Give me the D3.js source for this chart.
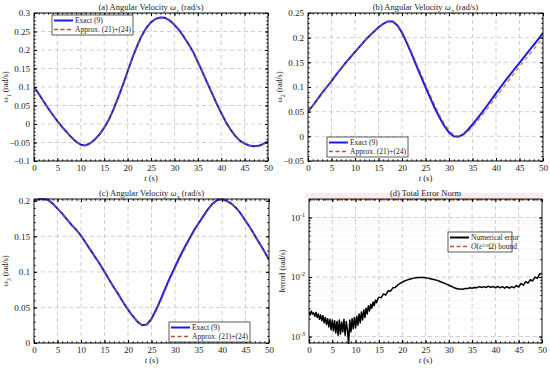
<!DOCTYPE html>
<html>
<head>
<meta charset="utf-8">
<script src="https://cdn.jsdelivr.net/npm/d3@7"></script>
<style>
body { margin: 0; background: #fff; }
text { font-family: "Liberation Serif", "DejaVu Serif", serif; fill: #222; }
</style>
</head>
<body>
<script>
// time grid for the angular velocity curves (1 s step)
const tSec = d3.range(0, 51);

// (a) omega_1 (rad/s)
const omega1Exact = [
0.100, 0.082, 0.062, 0.043, 0.025, 0.008, -0.008, -0.022, -0.036, -0.048,
-0.056, -0.058, -0.052, -0.042, -0.028, -0.010, 0.012, 0.040, 0.072, 0.106,
0.142, 0.178, 0.210, 0.238, 0.260, 0.275, 0.284, 0.288, 0.287, 0.280,
0.268, 0.254, 0.236, 0.216, 0.195, 0.168, 0.140, 0.112, 0.084, 0.056,
0.030, 0.005, -0.015, -0.032, -0.045, -0.053, -0.058, -0.060, -0.059, -0.054,
-0.047];
const omega1Approx = [
0.100, 0.082, 0.062, 0.043, 0.025, 0.008, -0.008, -0.022, -0.036, -0.048,
-0.056, -0.058, -0.052, -0.042, -0.028, -0.010, 0.012, 0.039, 0.071, 0.105,
0.141, 0.177, 0.209, 0.237, 0.259, 0.275, 0.284, 0.288, 0.287, 0.281,
0.269, 0.255, 0.237, 0.217, 0.196, 0.169, 0.141, 0.113, 0.085, 0.057,
0.031, 0.006, -0.014, -0.031, -0.044, -0.053, -0.058, -0.060, -0.059, -0.055,
-0.048];

// (b) omega_2 (rad/s)
const omega2Exact = [
0.050, 0.062, 0.075, 0.088, 0.100, 0.112, 0.125, 0.137, 0.149, 0.160,
0.171, 0.182, 0.193, 0.203, 0.212, 0.221, 0.228, 0.233, 0.233, 0.225,
0.210, 0.190, 0.168, 0.145, 0.122, 0.100, 0.078, 0.057, 0.038, 0.021,
0.008, 0.000, -0.001, 0.004, 0.013, 0.024, 0.036, 0.048, 0.061, 0.074,
0.087, 0.100, 0.113, 0.125, 0.137, 0.149, 0.161, 0.173, 0.185, 0.197,
0.209];
const omega2Approx = [
0.050, 0.062, 0.075, 0.088, 0.100, 0.112, 0.125, 0.137, 0.149, 0.160,
0.171, 0.182, 0.193, 0.203, 0.212, 0.221, 0.228, 0.233, 0.234, 0.227,
0.213, 0.193, 0.172, 0.150, 0.128, 0.106, 0.084, 0.063, 0.043, 0.026,
0.012, 0.003, 0.000, 0.002, 0.009, 0.019, 0.030, 0.042, 0.054, 0.067,
0.080, 0.092, 0.105, 0.117, 0.129, 0.141, 0.153, 0.165, 0.176, 0.188,
0.199];

// (c) omega_3 (rad/s)
const omega3Exact = [
0.200, 0.202, 0.2025, 0.201, 0.196, 0.189, 0.182, 0.174, 0.166, 0.159,
0.151, 0.141, 0.131, 0.121, 0.111, 0.100, 0.089, 0.078, 0.068, 0.057,
0.047, 0.038, 0.030, 0.025, 0.026, 0.034, 0.047, 0.062, 0.078, 0.093,
0.107, 0.121, 0.134, 0.146, 0.158, 0.168, 0.178, 0.188, 0.196, 0.201,
0.202, 0.200, 0.196, 0.190, 0.182, 0.172, 0.162, 0.151, 0.140, 0.129,
0.117];
const omega3Approx = [
0.200, 0.202, 0.2025, 0.201, 0.196, 0.189, 0.182, 0.174, 0.166, 0.159,
0.151, 0.141, 0.131, 0.121, 0.111, 0.100, 0.089, 0.078, 0.068, 0.057,
0.047, 0.038, 0.030, 0.025, 0.026, 0.033, 0.045, 0.059, 0.075, 0.090,
0.104, 0.118, 0.131, 0.144, 0.156, 0.167, 0.177, 0.187, 0.195, 0.200,
0.202, 0.200, 0.196, 0.190, 0.182, 0.172, 0.162, 0.151, 0.140, 0.129,
0.118];

// (d) total error norm, in 1e-3 rad/s
// 0 .. 14.75 s every 0.25 s
const errEarly = [
2.6, 2.3, 2.7, 2.4,
2.5, 2.2, 2.55, 2.1,
2.4, 1.95, 2.3, 1.85,
2.25, 1.7, 2.1, 1.6,
2.0, 1.45, 1.95, 1.3,
1.9, 1.25, 1.85, 1.15,
1.8, 1.05, 1.9, 1.1,
1.75, 1.2, 1.95, 1.05,
1.8, 1.3, 0.75, 1.9,
1.2, 2.0, 1.35, 2.1,
1.4, 2.2, 1.55, 2.4,
1.7, 2.6, 1.9, 2.8,
2.1, 3.0, 2.4, 3.3,
2.7, 3.5, 3.0, 3.8,
3.3, 4.1, 3.7, 4.3];
// 15 .. 50 s every 0.5 s
const errLate = [
4.6, 4.5, 5.2, 5.0, 5.9, 5.8, 6.6, 6.7, 7.3, 7.8,
8.2, 8.6, 8.9, 9.2, 9.4, 9.6, 9.7, 9.8, 9.8, 9.8,
9.7, 9.6, 9.4, 9.2, 9.0, 8.8, 8.5, 8.2, 7.9, 7.6,
7.3, 7.0, 6.7, 6.5, 6.3, 6.3, 6.25, 6.4, 6.4, 6.6,
6.5, 6.7, 6.6, 6.9, 6.7, 6.9, 6.7, 7.0, 6.7, 6.95,
6.6, 7.0, 6.6, 6.9, 6.5, 6.9, 6.5, 6.9, 6.6, 7.2,
6.8, 7.8, 7.3, 8.4, 7.9, 9.0, 8.6, 10.0, 9.5, 11.3,
11.5];
const tErr = d3.range(0, 15, 0.25).concat(d3.range(15, 50.01, 0.5));
const errorBound = 0.2; // O(eps^{3/2} Omega) bound, rad/s

const xTicks = d3.range(0, 51, 5);

const width = 550;
const height = 371;

const svg = d3.select("body")
.append("svg")
.attr("width", width)
.attr("height", height);

const blue = "#1a1ae6";
const brown = "#b0582a";

function zip(t, v, k) {
  return t.map(function(d, i){ return {t: d, v: v[i] * (k || 1)}; });
}

function drawPanel(p) {
  const g = svg.append("g").attr("transform", "translate(" + p.x + "," + p.y + ")");
  const xScale = d3.scaleLinear().domain([0, 50]).range([0, p.w]);
  const yScale = (p.log ? d3.scaleLog() : d3.scaleLinear())
    .domain(p.yDomain).range([p.h, 0]);

  // grid
  if (p.log) {
    g.append("g").selectAll("line")
    .data(p.yMinor)
    .join("line")
    .attr("x1", 0).attr("x2", p.w)
    .attr("y1", function(d){ return yScale(d); })
    .attr("y2", function(d){ return yScale(d); })
    .attr("stroke", "#e4e4e4")
    .attr("stroke-width", 0.6)
    .attr("stroke-dasharray", "1,1");
  }
  g.append("g").selectAll("line")
  .data(xTicks.slice(1, -1))
  .join("line")
  .attr("x1", function(d){ return xScale(d); })
  .attr("x2", function(d){ return xScale(d); })
  .attr("y1", 0).attr("y2", p.h)
  .attr("stroke", "#c4c4c4")
  .attr("stroke-width", 0.8)
  .attr("stroke-dasharray", "4,3");
  g.append("g").selectAll("line")
  .data(p.yTicks)
  .join("line")
  .attr("x1", 0).attr("x2", p.w)
  .attr("y1", function(d){ return yScale(d); })
  .attr("y2", function(d){ return yScale(d); })
  .attr("stroke", "#c4c4c4")
  .attr("stroke-width", 0.8)
  .attr("stroke-dasharray", "4,3");

  // curves
  const clipId = "clip-" + p.id;
  g.append("clipPath").attr("id", clipId)
  .append("rect").attr("x", 0).attr("y", -1).attr("width", p.w).attr("height", p.h + 2);
  const line = d3.line()
  .x(function(d){ return xScale(d.t); })
  .y(function(d){ return yScale(d.v); });
  const plot = g.append("g").attr("clip-path", "url(#" + clipId + ")");
  p.series.forEach(function(s) {
    plot.append("path")
    .datum(s.data)
    .attr("d", line)
    .attr("fill", "none")
    .attr("stroke", s.color)
    .attr("stroke-width", s.width)
    .attr("stroke-dasharray", s.dash || null)
    .attr("stroke-opacity", s.opacity || 1)
    .attr("stroke-linejoin", "round");
  });

  // frame
  g.append("rect")
  .attr("width", p.w).attr("height", p.h)
  .attr("fill", "none").attr("stroke", "#111").attr("stroke-width", 1);

  // axes with inward ticks on all sides
  const font = "Liberation Serif";
  const xa = g.append("g").attr("transform", "translate(0," + p.h + ")")
  .call(d3.axisBottom(xScale).tickValues(xTicks).tickSizeInner(-3).tickSizeOuter(0).tickPadding(4));
  xa.attr("font-family", font).attr("font-size", 9);
  g.append("g").attr("transform", "translate(0," + p.h + ")")
  .call(d3.axisBottom(xScale).tickValues(d3.range(0, 51, 1)).tickSizeInner(-1.6).tickSizeOuter(0).tickFormat(""));
  g.append("g")
  .call(d3.axisTop(xScale).tickValues(xTicks).tickSizeInner(-3).tickSizeOuter(0).tickFormat(""));
  g.append("g")
  .call(d3.axisTop(xScale).tickValues(d3.range(0, 51, 1)).tickSizeInner(-1.6).tickSizeOuter(0).tickFormat(""));

  const ya = g.append("g")
  .call(d3.axisLeft(yScale).tickValues(p.yTicks).tickSizeInner(-3).tickSizeOuter(0).tickPadding(4)
    .tickFormat(p.log ? "" : function(d){ return d3.format("")(+d.toFixed(3)); }));
  ya.attr("font-family", font).attr("font-size", 9);
  if (p.log) {
    ya.selectAll(".tick text").each(function(d) {
      const s = d3.select(this);
      s.append("tspan").text("10");
      s.append("tspan").attr("dy", -4).attr("font-size", 6).text(Math.round(Math.log10(d)));
    });
  }
  g.append("g")
  .call(d3.axisLeft(yScale).tickValues(p.yMinor).tickSizeInner(-1.6).tickSizeOuter(0).tickFormat(""));
  g.append("g").attr("transform", "translate(" + p.w + ",0)")
  .call(d3.axisRight(yScale).tickValues(p.yTicks).tickSizeInner(-3).tickSizeOuter(0).tickFormat(""));
  g.append("g").attr("transform", "translate(" + p.w + ",0)")
  .call(d3.axisRight(yScale).tickValues(p.yMinor).tickSizeInner(-1.6).tickSizeOuter(0).tickFormat(""));
  g.selectAll(".domain").remove();

  // title
  const title = g.append("text")
  .attr("x", p.w / 2).attr("y", -3.5)
  .attr("text-anchor", "middle")
  .attr("font-size", 8.5);
  p.title.forEach(function(part) {
    title.append("tspan")
    .attr("baseline-shift", part.sub ? "sub" : null)
    .attr("font-size", part.sub ? 6.5 : null)
    .attr("font-style", part.it ? "italic" : null)
    .text(part.s);
  });

  // x label
  const xl = g.append("text")
  .attr("x", p.w / 2).attr("y", p.h + 20)
  .attr("text-anchor", "middle")
  .attr("font-size", 8.5);
  xl.append("tspan").attr("font-style", "italic").text("t");
  xl.append("tspan").text(" (s)");

  // y label
  const yl = g.append("text")
  .attr("transform", "rotate(-90)")
  .attr("x", -p.h / 2).attr("y", p.yLabelX)
  .attr("text-anchor", "middle")
  .attr("font-size", 8);
  p.yLabel.forEach(function(part) {
    yl.append("tspan")
    .attr("baseline-shift", part.sub ? "sub" : null)
    .attr("font-size", part.sub ? 6 : null)
    .text(part.s);
  });

  // legend
  const lg = g.append("g").attr("transform", "translate(" + p.legend.x + "," + p.legend.y + ")");
  lg.append("rect")
  .attr("width", p.legend.w).attr("height", 20)
  .attr("fill", "#fff").attr("stroke", "#333").attr("stroke-width", 0.8);
  p.legend.items.forEach(function(it, i) {
    const yy = 5.5 + i * 9;
    lg.append("line")
    .attr("x1", 2).attr("x2", 21).attr("y1", yy).attr("y2", yy)
    .attr("stroke", it.color).attr("stroke-width", it.width)
    .attr("stroke-dasharray", it.dash || null);
    const tx = lg.append("text")
    .attr("x", 23).attr("y", yy + 2.6)
    .attr("font-size", 7.5);
    it.label.forEach(function(part) {
      tx.append("tspan")
      .attr("baseline-shift", part.sup ? "super" : null)
      .attr("font-size", part.sup ? 5 : null)
      .attr("font-style", part.it ? "italic" : null)
      .text(part.s);
    });
  });
  return g;
}

const omegaLegend = [
  {label: [{s: "Exact (9)"}], color: blue, width: 2},
  {label: [{s: "Approx. (21)+(24)"}], color: brown, width: 1.6, dash: "4,2.5"}
];

function omegaSeries(exact, approx) {
  return [
    {data: zip(tSec, exact), color: blue, width: 2},
    {data: zip(tSec, approx), color: brown, width: 1.3, dash: "4,3", opacity: 0.75}
  ];
}

drawPanel({
  id: "a", x: 34, y: 13, w: 234, h: 148,
  yDomain: [-0.1, 0.3],
  yTicks: d3.range(-0.1, 0.301, 0.05),
  yMinor: d3.range(-0.1, 0.301, 0.01),
  title: [{s: "(a) Angular Velocity "}, {s: "ω", it: true}, {s: "1", sub: true}, {s: " (rad/s)"}],
  yLabel: [{s: "ω"}, {s: "1", sub: true}, {s: " (rad/s)"}],
  yLabelX: -26,
  series: omegaSeries(omega1Exact, omega1Approx),
  legend: {x: 18, y: 2, w: 81, items: omegaLegend}
});

drawPanel({
  id: "b", x: 308, y: 13, w: 235, h: 148,
  yDomain: [-0.05, 0.25],
  yTicks: d3.range(-0.05, 0.251, 0.05),
  yMinor: d3.range(-0.05, 0.251, 0.01),
  title: [{s: "(b) Angular Velocity "}, {s: "ω", it: true}, {s: "2", sub: true}, {s: " (rad/s)"}],
  yLabel: [{s: "ω"}, {s: "2", sub: true}, {s: " (rad/s)"}],
  yLabelX: -26,
  series: omegaSeries(omega2Exact, omega2Approx),
  legend: {x: 19, y: 124, w: 81, items: omegaLegend}
});

drawPanel({
  id: "c", x: 34, y: 199, w: 235, h: 144,
  yDomain: [0, 0.2025],
  yTicks: d3.range(0, 0.201, 0.05),
  yMinor: d3.range(0, 0.201, 0.01),
  title: [{s: "(c) Angular Velocity "}, {s: "ω", it: true}, {s: "3", sub: true}, {s: " (rad/s)"}],
  yLabel: [{s: "ω"}, {s: "3", sub: true}, {s: " (rad/s)"}],
  yLabelX: -26,
  series: omegaSeries(omega3Exact, omega3Approx),
  legend: {x: 135, y: 123, w: 81, items: omegaLegend}
});

// faint band behind the title of panel (d)
svg.append("rect")
.attr("x", 305).attr("y", 193).attr("width", 238).attr("height", 5)
.attr("fill", "#fdeaf1");

const logMinor = [];
[-4, -3, -2, -1].forEach(function(k) {
  d3.range(1, 10).forEach(function(m) { logMinor.push(m * Math.pow(10, k)); });
});

drawPanel({
  id: "d", x: 309, y: 199, w: 233, h: 144, log: true,
  yDomain: [7.8e-4, 0.205],
  yTicks: [1e-3, 1e-2, 1e-1],
  yMinor: logMinor.filter(function(v){ return v >= 7.8e-4 && v <= 0.205; }),
  title: [{s: "(d) Total Error Norm"}],
  yLabel: [{s: "‖error‖ (rad/s)"}],
  yLabelX: -24,
  series: [
    {data: zip(tErr, errEarly.concat(errLate), 1e-3), color: "#000", width: 1.5},
    {data: [{t: 0, v: errorBound}, {t: 50, v: errorBound}], color: brown, width: 1.5, dash: "4,3"}
  ],
  legend: {x: 139, y: 33, w: 64, items: [
    {label: [{s: "Numerical error"}], color: "#000", width: 2},
    {label: [{s: "O", it: true}, {s: "("}, {s: "ε", it: true}, {s: "3/2", sup: true}, {s: "Ω) bound"}], color: brown, width: 1.6, dash: "4,2.5"}
  ]}
});
</script>
</body>
</html>
